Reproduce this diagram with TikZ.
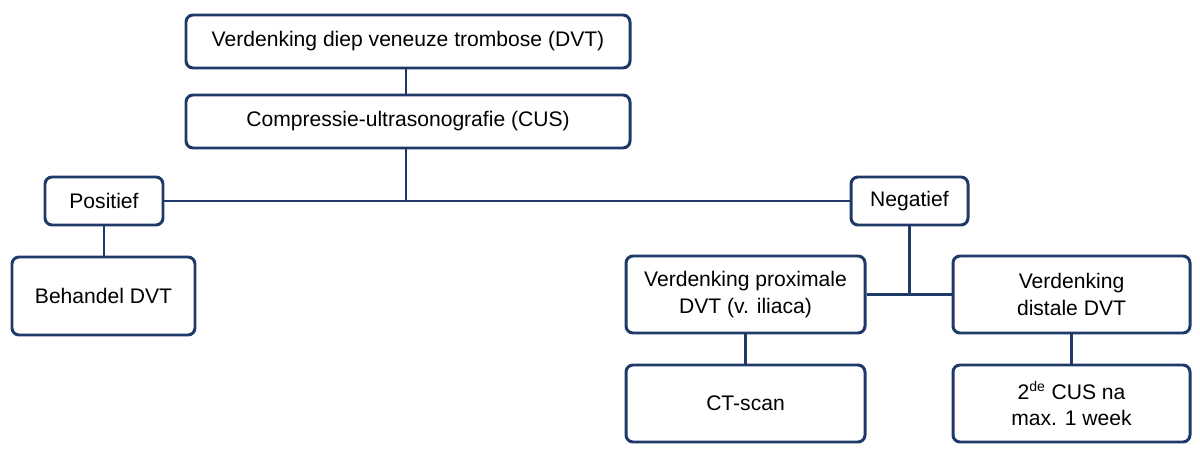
\documentclass[tikz,border=0pt]{standalone}
\usepackage{fontspec}
\setmainfont{Liberation Sans}
\definecolor{navy}{HTML}{1F3A68}
\begin{document}
\begin{tikzpicture}[x=0.02cm,y=-0.02cm,
  box/.style={draw=navy,line width=1.7pt,rounded corners=4pt,fill=white,align=center,font=\fontsize{12}{15}\selectfont,inner sep=0pt},
  ln/.style={draw=navy,line width=1.7pt}]
\useasboundingbox (0,0) rectangle (1200,456);
\newcommand{\bx}[6]{\node[box,minimum width={(#4-#2)*0.02cm},minimum height={(#5-#3)*0.02cm}] (#1) at ({(#2+#4)/2},{(#3+#5)/2}) {#6};}
\bx{a}{186}{15}{630}{68}{Verdenking diep veneuze trombose (DVT)}
\bx{b}{186}{95}{630}{148}{Compressie-ultrasonografie (CUS)}
\bx{pos}{45}{177}{163}{225}{Positief}
\bx{neg}{851}{177}{968}{225}{Negatief}
\bx{beh}{12}{257}{195}{335}{Behandel DVT}
\bx{prox}{626}{256}{865}{333}{Verdenking proximale\\DVT (v. iliaca)}
\bx{dist}{953}{256}{1190}{333}{Verdenking\\distale DVT}
\bx{ct}{626}{365}{865}{442}{CT-scan}
\bx{cus}{953}{365}{1190}{442}{2\textsuperscript{de} CUS na\\max. 1 week}
\coordinate (j1) at (406,200);
\coordinate (j2) at (909,293);
\path[ln] (a.south -| 406,0) -- (b.north -| 406,0);
\path[ln] (b.south -| j1) -- (j1);
\path[ln] (pos.east) -- (neg.west);
\path[ln] (pos.south -| 104,0) -- (beh.north -| 104,0);
\path[ln] (neg.south -| j2) -- (j2);
\path[ln] (prox.east) -- (dist.west);
\path[ln] (prox.south) -- (ct.north);
\path[ln] (dist.south) -- (cus.north);
\end{tikzpicture}
\end{document}
